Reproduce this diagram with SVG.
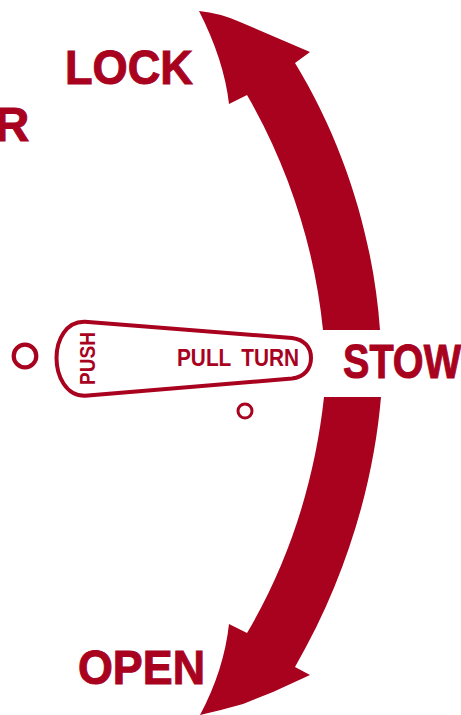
<svg xmlns="http://www.w3.org/2000/svg" width="461" height="715" viewBox="0 0 461 715">
<style>
.f{fill:#a8021f}
.t{fill:#a8021f;font-family:"Liberation Sans",Arial,sans-serif;font-weight:700}
.l{font-size:47.500px;stroke:#a8021f;stroke-width:1px}
.o{fill:none;stroke:#a8021f}
</style>
<rect width="461" height="715" fill="#fff"/>
<g id="connectors">
<path id="arrow-lock" class="f" d="M199 11Q220 13 240 22L310 52L295 63C348 150 374 245 380 330H323C315 250 290 170 247 95L229 104Q224 60 199 11Z"/>
<path id="arrow-open" class="f" d="M200 715Q222 710 243 704L273 692L310 675L295 667C348 575 374 480 381 397H324C315 480 290 560 247 633L229 624Q224 670 200 715Z"/>
</g>
<g id="label-lock"><text class="t l" x="65" y="84" textLength="128" lengthAdjust="spacingAndGlyphs">LOCK</text></g>
<g id="label-r"><text class="t l" x="-5" y="141">R</text></g>
<g id="label-open"><text class="t l" x="78" y="684" textLength="127" lengthAdjust="spacingAndGlyphs">OPEN</text></g>
<g id="label-stow"><text class="t l" x="343" y="378" textLength="118" lengthAdjust="spacingAndGlyphs">STOW</text></g>
<g id="handle">
<path class="o" stroke-width="4" d="M85 321.700L292 338C304 339.500 311 347 311 358C311 369 304 377 292 378.500L85 395.800C66 396 56.500 376 56.500 358C56.500 340 66 321 85 321.700Z"/>
<text class="t" font-size="23" x="177" y="366" textLength="122" lengthAdjust="spacingAndGlyphs" word-spacing="5">PULL TURN</text>
<text class="t" font-size="22" transform="translate(95 385) rotate(-90)" textLength="53" lengthAdjust="spacingAndGlyphs">PUSH</text>
</g>
<g id="pin-left"><circle class="o" cx="25" cy="356" r="11.300" stroke-width="4.200"/></g>
<g id="pin-lower"><circle class="o" cx="245" cy="411" r="7" stroke-width="3"/></g>
</svg>
